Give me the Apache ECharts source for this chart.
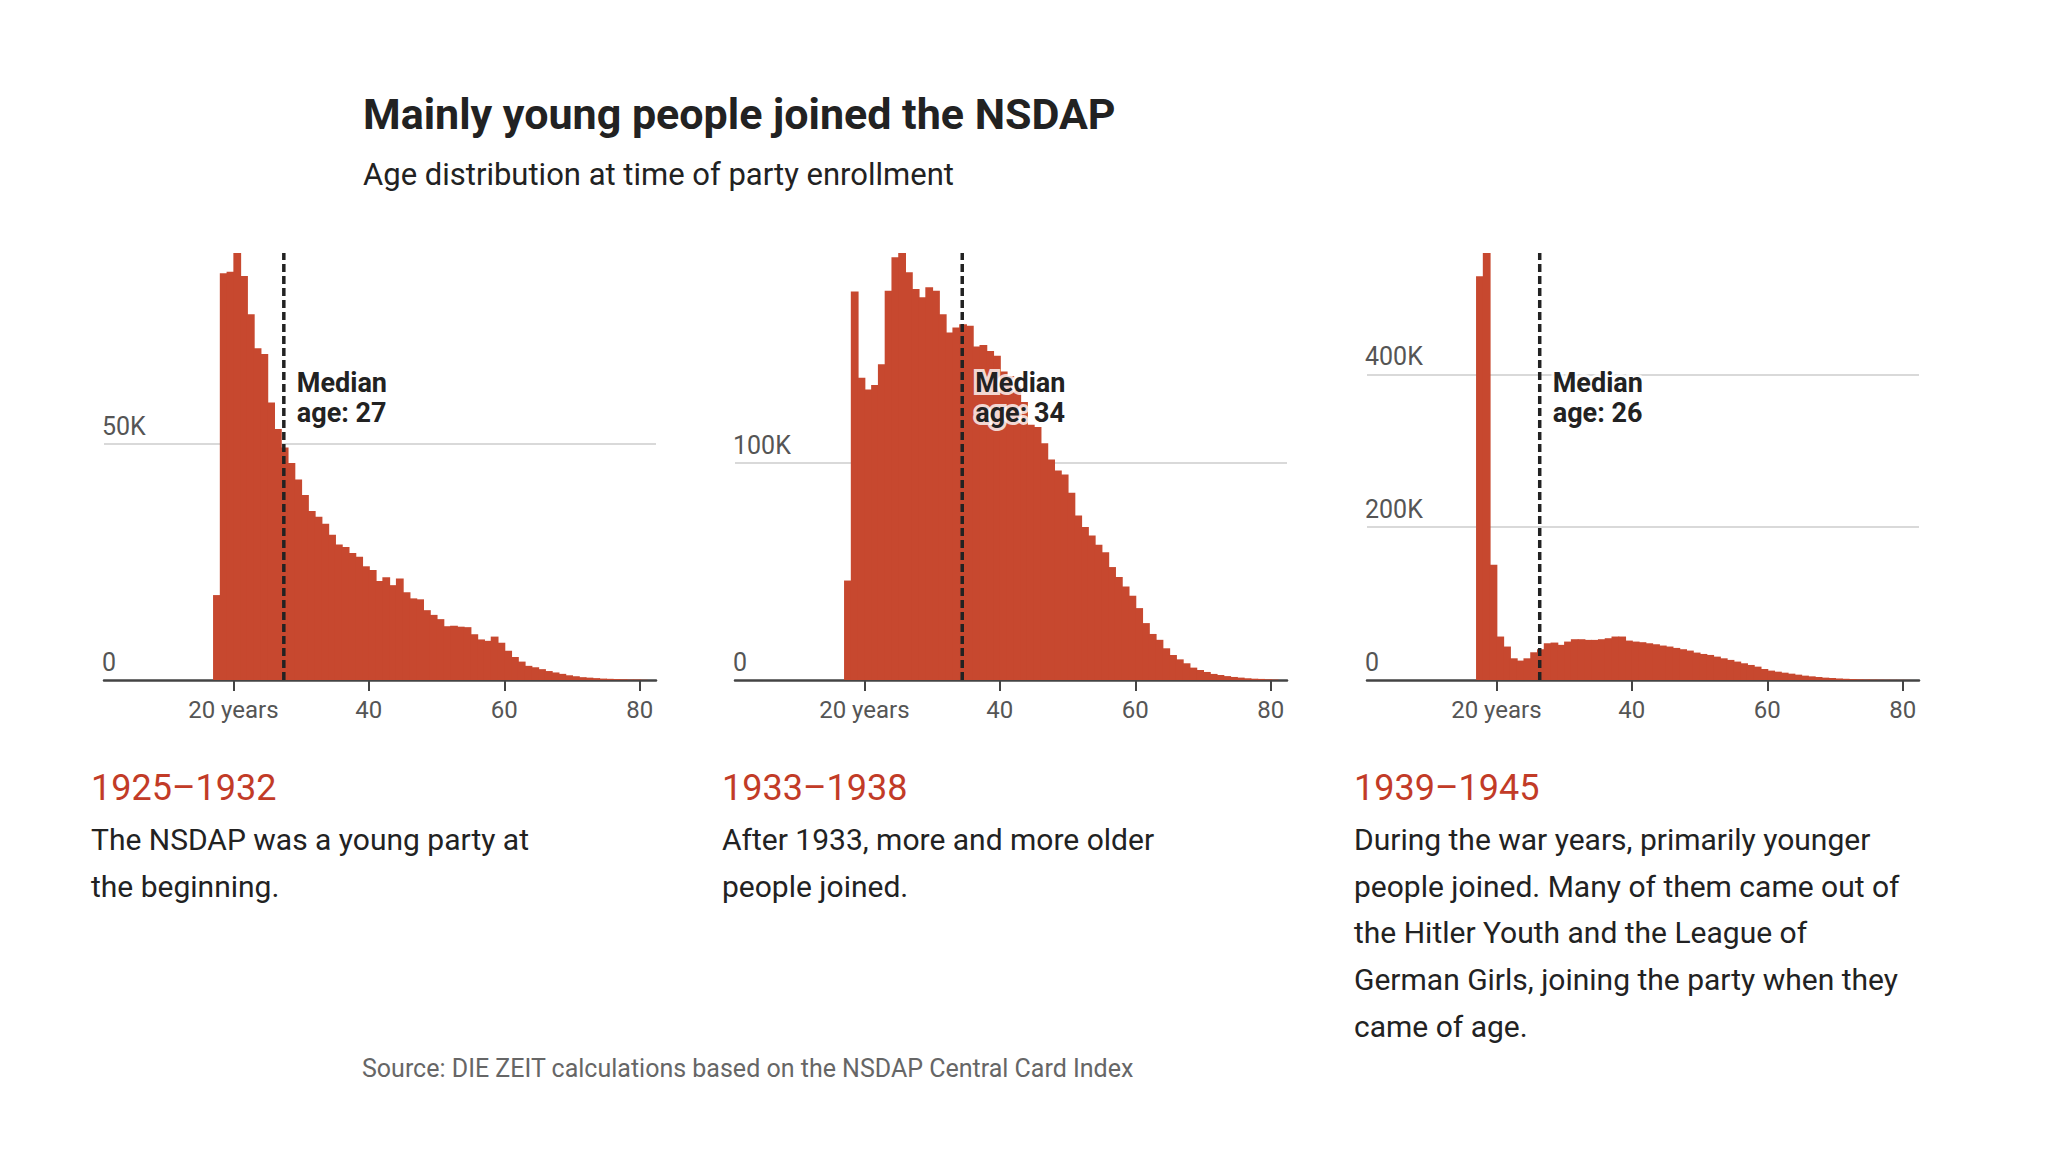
<!DOCTYPE html>
<html>
<head>
<meta charset="utf-8">
<title>Mainly young people joined the NSDAP</title>
<script src="https://cdn.jsdelivr.net/npm/echarts@6/dist/echarts.min.js"></script>
<style>
  html, body { margin: 0; padding: 0; background: #fff; }
  #chart { width: 2048px; height: 1152px; }
</style>
</head>
<body>
<div id="chart"></div>
<script>
// age at enrollment, one bar per year of age
const ages = [
  17, 18, 19, 20, 21, 22, 23, 24, 25, 26, 27, 28, 29, 30, 31, 32,
  33, 34, 35, 36, 37, 38, 39, 40, 41, 42, 43, 44, 45, 46, 47, 48,
  49, 50, 51, 52, 53, 54, 55, 56, 57, 58, 59, 60, 61, 62, 63, 64,
  65, 66, 67, 68, 69, 70, 71, 72, 73, 74, 75, 76, 77, 78, 79, 80
];

// new members per age, 1925-1932
const members1925 = [
  18000, 86200, 86500, 90500, 85600, 77500, 70300, 69100, 58800, 53200, 49300, 46000, 42500, 39200, 35800, 34600,
  33100, 30800, 28700, 28200, 26900, 26100, 24100, 23300, 21000, 21800, 20100, 21500, 18600, 17300, 17100, 14800,
  13800, 12900, 11400, 11500, 11300, 11200, 9700, 8600, 8300, 9200, 7900, 6200, 4900, 3900, 3000, 2700,
  2300, 1900, 1600, 1300, 1000, 800, 600, 500, 400, 300, 250, 200, 150, 100, 100, 50
];

// new members per age, 1933-1938
const members1933 = [
  45800, 178900, 139200, 133800, 135800, 145400, 179200, 194600, 196600, 187700, 180000, 176200, 180800, 179200, 168400, 160000,
  162300, 163800, 163100, 153500, 154200, 151500, 149300, 142000, 140000, 135000, 128000, 117500, 116500, 109000, 101500, 96500,
  94600, 86200, 75700, 70500, 66500, 62300, 58800, 52000, 47400, 43100, 38800, 33100, 26200, 21200, 18500, 14600,
  11500, 9500, 7700, 5700, 4600, 3700, 2800, 2300, 1800, 1400, 1100, 800, 600, 500, 300, 200
];

// new members per age, 1939-1945
const members1939 = [
  528700, 559000, 151000, 56900, 43800, 28400, 25400, 28400, 36300, 40300, 48100, 49000, 46000, 50300, 53400, 53400,
  52500, 52500, 53400, 54700, 56900, 56900, 51600, 50300, 49500, 48100, 46800, 45100, 43800, 42000, 40300, 38500,
  35900, 34100, 32800, 30600, 28400, 26300, 24100, 21900, 19700, 17500, 14400, 12300, 10900, 9600, 8300, 7000,
  5700, 4800, 3900, 3100, 2600, 2000, 1600, 1200, 900, 700, 500, 400, 300, 200, 150, 100
];

const medianAge = [27, 34, 26];
const medianPos = [27.45, 34.45, 26.4];
const yStep = [50000, 100000, 200000];
const xTicks = [20, 40, 60, 80];

const periods = ['1925–1932', '1933–1938', '1939–1945'];
const notes = [
  'The NSDAP was a young party at\nthe beginning.',
  'After 1933, more and more older\npeople joined.',
  'During the war years, primarily younger\npeople joined. Many of them came out of\nthe Hitler Youth and the League of\nGerman Girls, joining the party when they\ncame of age.'
];

const FONT = 'Roboto, "Noto Sans", "DejaVu Sans", sans-serif';
const BAR = '#c7482f';
const RED = '#c23b27';
const INK = '#222222';

const panels = [members1925, members1933, members1939];
const panelLeft = [104, 735, 1367];
const plotTop = 253, plotHeight = 427, plotWidth = 552;

let dom = document.getElementById('chart');
let myChart = echarts.init(dom, null, { renderer: 'svg' });

function barItem(params, api) {
  let age = api.value(0);
  let top = api.coord([age, api.value(1)]);
  let base = api.coord([age + 1, 0]);
  // one pixel wider so neighbouring bars don't leave seams
  return {
    type: 'rect',
    shape: { x: top[0], y: top[1], width: base[0] - top[0] + 1, height: base[1] - top[1] },
    style: { fill: BAR }
  };
}

let grids = [], xAxes = [], yAxes = [], series = [];
panels.forEach((values, i) => {
  grids.push({ left: panelLeft[i], top: plotTop, width: plotWidth, height: plotHeight });
  xAxes.push({
    type: 'value', gridIndex: i, min: 0.9, max: 82.4,
    splitLine: { show: false },
    axisLine: { lineStyle: { color: '#444', width: 2.5 } },
    axisTick: { customValues: xTicks, length: 11, lineStyle: { color: '#444', width: 2 } },
    axisLabel: {
      customValues: xTicks, margin: 18, fontSize: 24, fontFamily: FONT, color: '#555',
      formatter: v => v === 20 ? '20 years' : String(v)
    }
  });
  yAxes.push({
    type: 'value', gridIndex: i, min: 0, max: 'dataMax', interval: yStep[i],
    axisLine: { show: false },
    axisTick: { show: false },
    splitLine: { showMinLine: false, showMaxLine: false, lineStyle: { color: '#d9d9d9', width: 2 } },
    axisLabel: {
      inside: true, margin: -2, fontSize: 25, fontFamily: FONT, color: '#555',
      verticalAlign: 'bottom', padding: [0, 0, 5, 0], showMaxLabel: false,
      formatter: v => v === 0 ? '0' : (v / 1000) + 'K'
    }
  });
  series.push({
    type: 'custom', xAxisIndex: i, yAxisIndex: i, renderItem: barItem,
    encode: { x: 0, y: 1 }, silent: true,
    data: ages.map((a, k) => [a, values[k]])
  });
  series.push({
    type: 'line', xAxisIndex: i, yAxisIndex: i, symbol: 'none', silent: true, z: 5,
    lineStyle: { color: INK, width: 3.5, type: [8, 4] },
    data: [[medianPos[i], 0], [medianPos[i], Math.max(...values)]]
  });
});

myChart.setOption({
  animation: false,
  textStyle: { fontFamily: FONT },
  grid: grids,
  xAxis: xAxes,
  yAxis: yAxes,
  series: series
});

function txt(x, y, text, font, fill, lh, more) {
  return {
    type: 'text', x: x, y: y, silent: true, z: 100,
    style: Object.assign({
      text: text, font: font, fill: fill, lineHeight: lh,
      textAlign: 'left', textVerticalAlign: 'top', align: 'left', verticalAlign: 'top'
    }, more || {})
  };
}

let graphics = [
  txt(363, 92, 'Mainly young people joined the NSDAP', 'bold 43px ' + FONT, INK, 43),
  txt(363, 159, 'Age distribution at time of party enrollment', '31px ' + FONT, INK, 31),
  txt(362, 1056, 'Source: DIE ZEIT calculations based on the NSDAP Central Card Index', '25px ' + FONT, '#666', 25)
];
panels.forEach((values, i) => {
  let x0 = panelLeft[i] - 13;
  graphics.push(txt(x0, 770, periods[i], '36px ' + FONT, RED, 36));
  graphics.push(txt(x0, 816, notes[i], '30px ' + FONT, INK, 46.7));
  // median label sits just right of the dashed line
  let mx = myChart.convertToPixel({ xAxisIndex: i }, medianPos[i]);
  graphics.push(txt(mx + 13, 368, 'Median\nage: ' + medianAge[i], 'bold 27px ' + FONT, INK, 30, {
    stroke: 'rgba(255,255,255,0.78)', lineWidth: 6
  }));
});

myChart.setOption({ graphic: graphics });
</script>
</body>
</html>
